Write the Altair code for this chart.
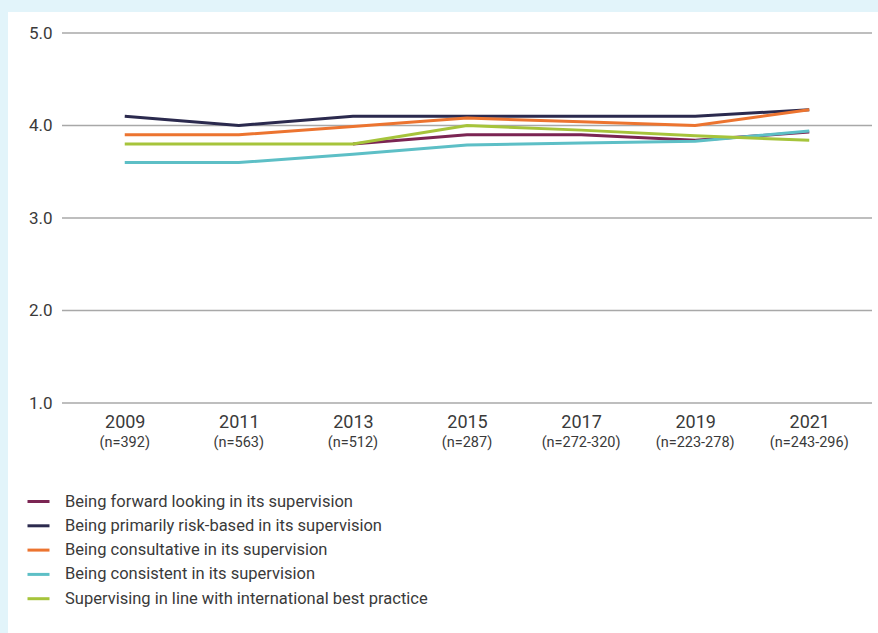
import altair as alt
import pandas as pd

years = ["2009", "2011", "2013", "2015", "2017", "2019", "2021"]
n_labels = ["(n=392)", "(n=563)", "(n=512)", "(n=287)", "(n=272-320)", "(n=223-278)", "(n=243-296)"]

series_names = [
    "Being forward looking in its supervision",
    "Being primarily risk-based in its supervision",
    "Being consultative in its supervision",
    "Being consistent in its supervision",
    "Supervising in line with international best practice",
]
forward = [None, None, 3.8, 3.9, 3.9, 3.84, 3.93]
risk_based = [4.1, 4.0, 4.1, 4.1, 4.1, 4.1, 4.17]
consultative = [3.9, 3.9, 3.99, 4.08, 4.04, 4.0, 4.17]
consistent = [3.6, 3.6, 3.69, 3.79, 3.81, 3.83, 3.94]
international = [3.8, 3.8, 3.8, 4.0, 3.95, 3.89, 3.84]
colors = ["#7b2553", "#2b2a4e", "#ec7430", "#5dbfc6", "#a6c43b"]
grid_values = [1.0, 2.0, 3.0, 4.0, 5.0]

rows = []
for name, vals in zip(series_names, [forward, risk_based, consultative, consistent, international]):
    for i, (y, v) in enumerate(zip(years, vals)):
        if v is not None:
            rows.append({"year": y, "value": v, "series": name})
df = pd.DataFrame(rows)
ndf = pd.DataFrame({"year": years, "n": n_labels})
gdf = pd.DataFrame({"g": grid_values})

W, H = 810, 370
FONT = "Roboto"

xscale = alt.Scale(type="point", padding=0.55, domain=years)
yscale = alt.Scale(domain=[1, 5])
yaxis = alt.Axis(values=grid_values, format=".1f", grid=False, ticks=False, domain=False,
                 labelFontSize=17, labelColor="#3a3a3a", labelPadding=10, labelFont=FONT,
                 title=None, zindex=1)

panel = alt.Chart(pd.DataFrame({"a": [0]})).mark_rect(color="#ffffff").encode(
    x=alt.value(-54), x2=alt.value(W + 10), y=alt.value(-21), y2=alt.value(H + 240)
)

grid = alt.Chart(gdf).mark_rule(color="#a8a8a8", strokeWidth=1.5).encode(
    y=alt.Y("g:Q", scale=yscale, axis=yaxis),
    x=alt.value(0), x2=alt.value(W),
)

lines = alt.Chart(df).mark_line(strokeWidth=3).encode(
    x=alt.X("year:O", scale=xscale,
            axis=alt.Axis(labelAngle=0, ticks=False, domain=False, grid=False, labelFontSize=18,
                          labelColor="#3a3a3a", labelPadding=10, labelFont=FONT, title=None,
                          zindex=1)),
    y=alt.Y("value:Q", scale=yscale, axis=yaxis),
    color=alt.Color("series:N", scale=alt.Scale(domain=series_names, range=colors),
                    legend=alt.Legend(orient="none", legendX=-36, legendY=456, title=None,
                                      symbolType="stroke", symbolSize=484, symbolStrokeWidth=3,
                                      labelFontSize=16.5, labelColor="#3a3a3a", labelFont=FONT,
                                      labelOffset=14, rowPadding=3.3, labelLimit=600)),
    detail="series:N",
)

nlab = alt.Chart(ndf).mark_text(fontSize=14.5, color="#3a3a3a", font=FONT, baseline="middle").encode(
    x=alt.X("year:O", scale=xscale),
    y=alt.value(H + 40),
    text="n:N",
)

chart = alt.layer(panel, grid, lines, nlab).properties(
    width=W, height=H,
    padding={"left": 62, "top": 33, "right": 6, "bottom": 230},
    autosize=alt.AutoSizeParams(type="none"),
    background="#e2f4fa",
).configure_view(stroke=None)

chart.save("out.html", embed_options={"renderer": "svg", "actions": False})
